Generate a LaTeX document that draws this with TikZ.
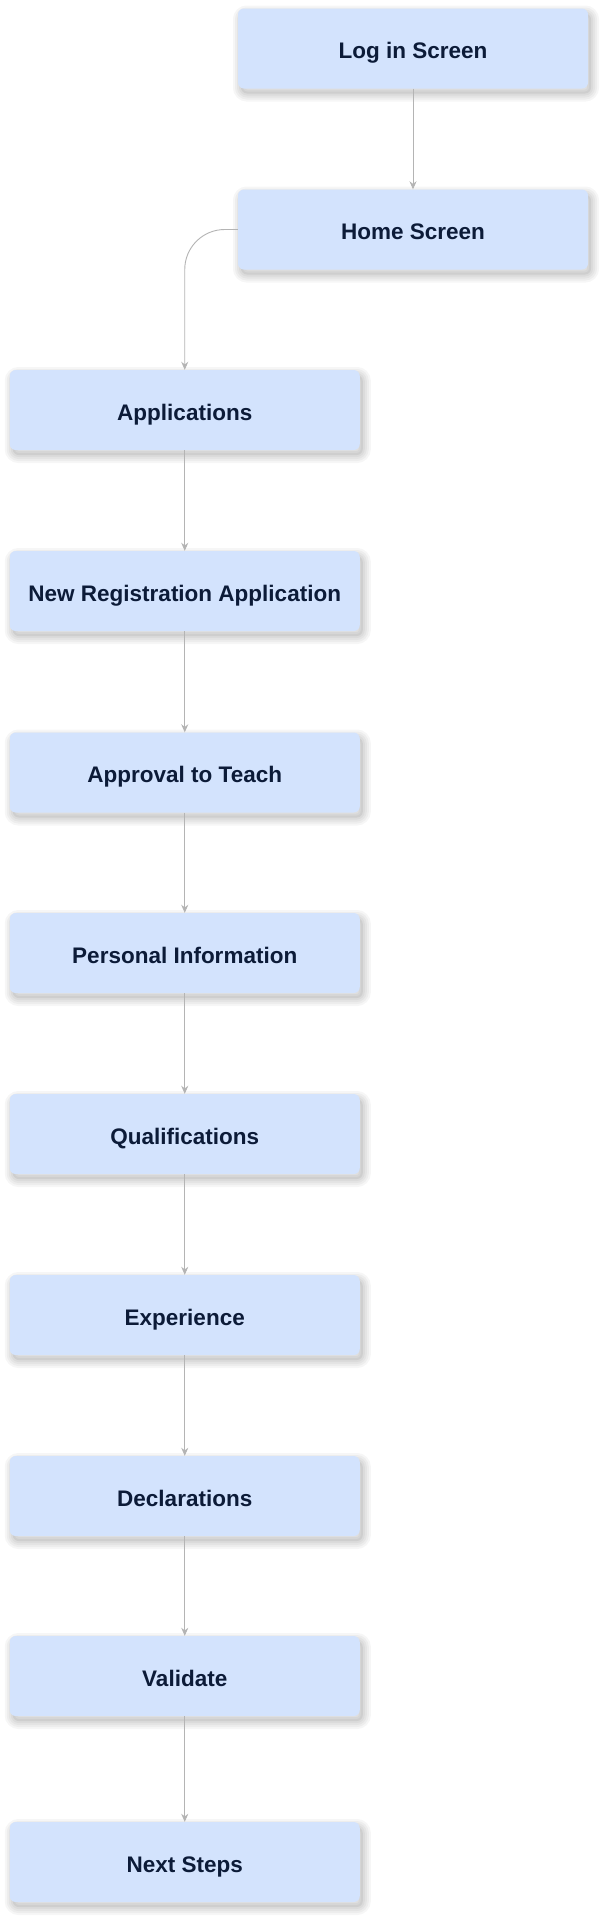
\documentclass[tikz,border=0pt]{standalone}
\usepackage{fontspec}
\setmainfont{Liberation Sans}
\usetikzlibrary{arrows.meta}
\definecolor{boxfill}{HTML}{D3E3FD}
\definecolor{txt}{HTML}{0C1B38}
\definecolor{conn}{HTML}{B4B4B4}
\tikzset{
  shadowring/.style={preaction={draw=black, draw opacity=0.035, fill=none, line width=#1,
      transform canvas={xshift=3pt,yshift=-5pt}}},
  stepbox/.style={rectangle, rounded corners=6pt, fill=boxfill, draw=none,
    minimum width=350pt, minimum height=80pt, text=txt,
    text height=20pt, text depth=0pt,
    font=\fontsize{22.5}{26}\selectfont\bfseries,
    shadowring=16pt, shadowring=12pt, shadowring=8pt, shadowring=4pt,
    preaction={fill=black, fill opacity=0.06, transform canvas={xshift=3pt,yshift=-5pt}}},
  link/.style={draw=conn, line width=0.9pt, -{Stealth[length=8pt,width=7pt]}}
}
\begin{document}
\begin{tikzpicture}[x=1pt,y=-1pt]
\useasboundingbox[fill=white] (0,0) rectangle (611,1925);
\node[stepbox] (login) at (413,48.5) {Log in Screen};
\node[stepbox] (home) at (413,229.5) {Home Screen};
\node[stepbox] (apps) at (184.75,410) {Applications};
\node[stepbox] (newreg) at (184.75,591) {New Registration Application};
\node[stepbox] (approval) at (184.75,772.5) {Approval to Teach};
\node[stepbox] (personal) at (184.75,953) {Personal Information};
\node[stepbox] (qual) at (184.75,1134) {Qualifications};
\node[stepbox] (exp) at (184.75,1315) {Experience};
\node[stepbox] (decl) at (184.75,1496) {Declarations};
\node[stepbox] (valid) at (184.75,1676) {Validate};
\node[stepbox] (next) at (184.75,1862) {Next Steps};
\draw[link] (login) -- (home);
\draw[link, rounded corners=40pt] (home.west) -| (apps.north);
\draw[link] (apps) -- (newreg);
\draw[link] (newreg) -- (approval);
\draw[link] (approval) -- (personal);
\draw[link] (personal) -- (qual);
\draw[link] (qual) -- (exp);
\draw[link] (exp) -- (decl);
\draw[link] (decl) -- (valid);
\draw[link] (valid) -- (next);
\end{tikzpicture}
\end{document}
